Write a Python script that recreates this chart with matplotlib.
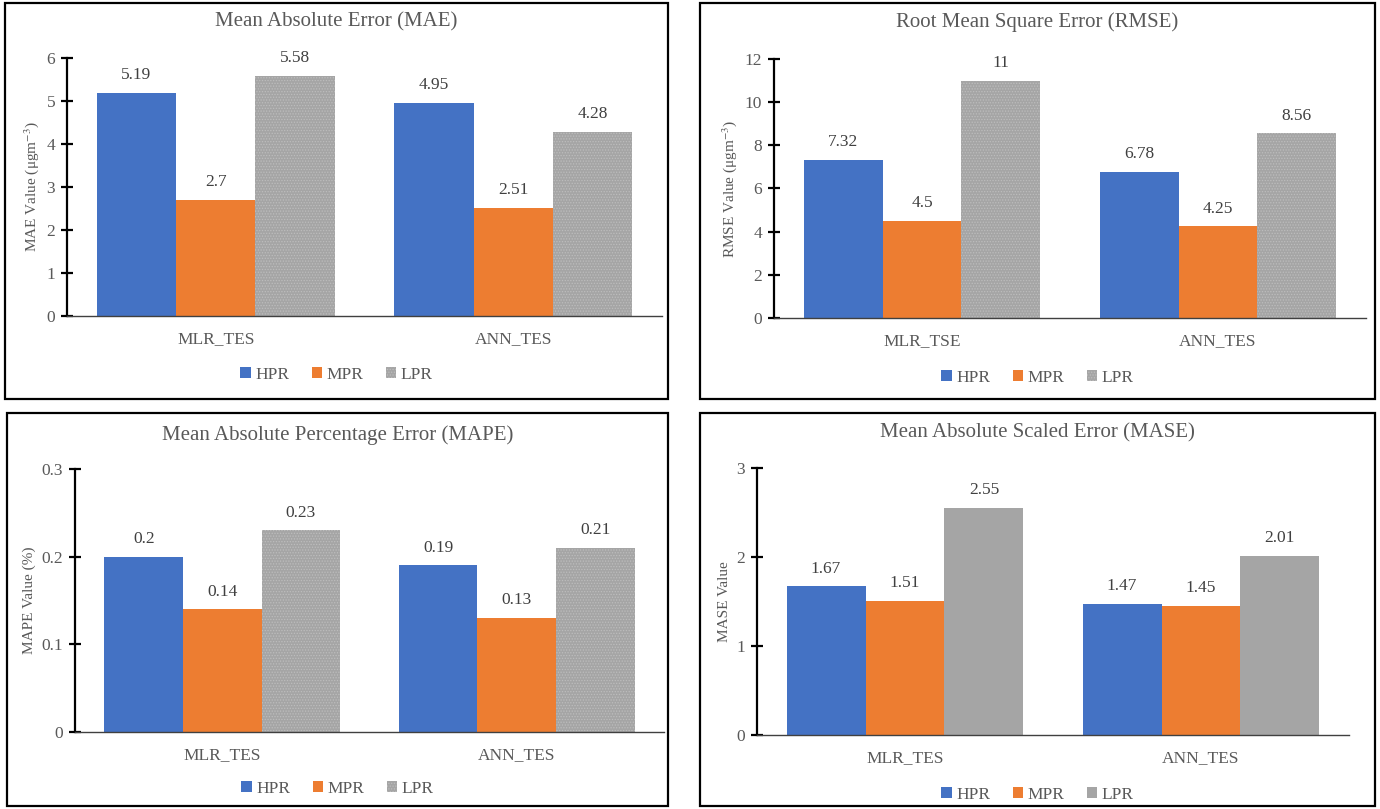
import numpy as np
import matplotlib.pyplot as plt
from matplotlib.patches import Rectangle

plt.rcParams['font.family'] = ['Liberation Serif', 'DejaVu Serif']
plt.rcParams['mathtext.fontset'] = 'stix'
plt.rcParams['hatch.linewidth'] = 0.6

series = ["HPR", "MPR", "LPR"]
colors = ["#4472C4", "#ED7D31", "#A5A5A5"]

mae_cats = ["MLR_TES", "ANN_TES"]
mae_hpr = [5.19, 4.95]
mae_mpr = [2.7, 2.51]
mae_lpr = [5.58, 4.28]

rmse_cats = ["MLR_TSE", "ANN_TES"]
rmse_hpr = [7.32, 6.78]
rmse_mpr = [4.5, 4.25]
rmse_lpr = [11, 8.56]

mape_cats = ["MLR_TES", "ANN_TES"]
mape_hpr = [0.2, 0.19]
mape_mpr = [0.14, 0.13]
mape_lpr = [0.23, 0.21]

mase_cats = ["MLR_TES", "ANN_TES"]
mase_hpr = [1.67, 1.47]
mase_mpr = [1.51, 1.45]
mase_lpr = [2.55, 2.01]

W, H = 1380, 809
TXT = "#595959"
fig = plt.figure(figsize=(W / 100, H / 100), dpi=100)


def px_rect(x0, y0, x1, y1):
    return [x0 / W, 1 - y1 / H, (x1 - x0) / W, (y1 - y0) / H]


def panel(box, axbox, title, cats, vals, ymax, ystep, ylabel, hatched, legend_y, title_y):
    # outer frame around each chart
    fig.patches.append(Rectangle((box[0] / W, 1 - box[3] / H), (box[2] - box[0]) / W,
                                 (box[3] - box[1]) / H, transform=fig.transFigure,
                                 fill=False, edgecolor="black", linewidth=1.6))
    ax = fig.add_axes(px_rect(*axbox))
    x = np.arange(len(cats))
    w = 0.8 / 3
    for i, (name, v) in enumerate(zip(series, vals)):
        if name == "LPR" and hatched:
            bars = ax.bar(x + (i - 1) * w, v, w, color=colors[i], label=name,
                          hatch="......", edgecolor="#bdbdbd", linewidth=0)
        else:
            bars = ax.bar(x + (i - 1) * w, v, w, color=colors[i], label=name, linewidth=0)
        ax.bar_label(bars, labels=[f"{t:g}" for t in v], padding=7, fontsize=12.5, color="#404040")
    ax.set_xlim(-0.5, len(cats) - 0.5)
    ax.set_ylim(0, ymax)
    ticks = np.arange(0, ymax + ystep / 2, ystep)
    ax.set_yticks(ticks)
    ax.set_yticklabels([f"{t:g}" for t in ticks])
    ax.set_xticks(x)
    ax.set_xticklabels(cats)
    for s in ["top", "right"]:
        ax.spines[s].set_visible(False)
    ax.spines["left"].set_linewidth(1.6)
    ax.spines["bottom"].set_linewidth(1.0)
    ax.spines["bottom"].set_color("#404040")
    ax.tick_params(axis="y", direction="inout", length=9, width=1.6, labelsize=12.5,
                   labelcolor=TXT, pad=4)
    ax.tick_params(axis="x", length=0, labelsize=12.5, labelcolor=TXT, pad=11)
    ax.set_ylabel(ylabel, fontsize=11, color=TXT, labelpad=4)
    cx = (box[0] + box[2]) / 2
    fig.text(cx / W, 1 - title_y / H, title, ha="center", va="center", fontsize=15, color=TXT)
    handles, labels = ax.get_legend_handles_labels()
    fig.legend(handles, labels, loc="center", bbox_to_anchor=(cx / W, 1 - legend_y / H),
               ncol=3, frameon=False, fontsize=12.5, handlelength=0.6, handleheight=0.6,
               handletextpad=0.25, columnspacing=1.3, labelcolor=TXT)
    return ax


panel((5, 3, 668, 399), (67, 58, 662, 316), "Mean Absolute Error (MAE)", mae_cats,
      [mae_hpr, mae_mpr, mae_lpr], 6, 1, "MAE Value (μgm$^{-3}$)", True, 375, 22)
panel((700, 3, 1375, 399), (774, 59, 1366, 318), "Root Mean Square Error (RMSE)", rmse_cats,
      [rmse_hpr, rmse_mpr, rmse_lpr], 12, 2, "RMSE Value (μgm$^{-3}$)", True, 378, 22)
panel((7, 413, 668, 806), (75, 469, 664, 732), "Mean Absolute Percentage Error (MAPE)", mape_cats,
      [mape_hpr, mape_mpr, mape_lpr], 0.3, 0.1, "MAPE Value (%)", True, 789, 435)
panel((700, 413, 1375, 806), (757, 468, 1349, 735), "Mean Absolute Scaled Error (MASE)", mase_cats,
      [mase_hpr, mase_mpr, mase_lpr], 3, 1, "MASE Value", False, 795, 433)

plt.savefig("out.png", dpi=100)
